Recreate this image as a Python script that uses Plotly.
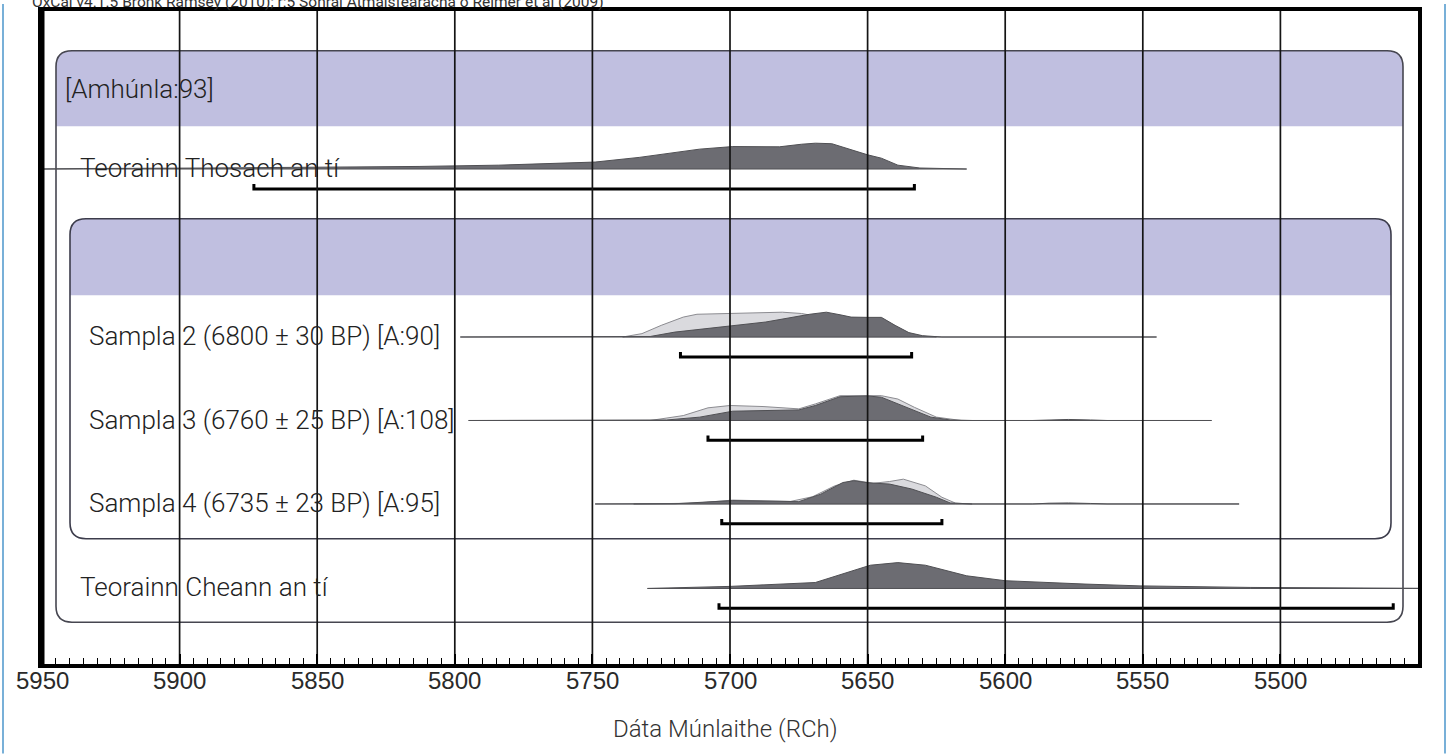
import plotly.graph_objects as go

# ---------------- data ----------------
TICK_YEARS = [5950, 5900, 5850, 5800, 5750, 5700, 5650, 5600, 5550, 5500]
TICK_LABELS = [str(v) for v in TICK_YEARS]
MINOR_STEP = 5
X_TITLE = "Dáta Múnlaithe (RCh)"
HEADER = "OxCal v4.1.5 Bronk Ramsey (2010); r:5 Sonraí Atmaisféaracha ó Reimer et al (2009)"
MODEL_LABEL = "[Amhúnla:93]"

ROW_LABELS = [
    "Teorainn Thosach an tí",
    "Sampla 2 (6800 ± 30 BP) [A:90]",
    "Sampla 3 (6760 ± 25 BP) [A:108]",
    "Sampla 4 (6735 ± 23 BP) [A:95]",
    "Teorainn Cheann an tí",
]

# modelled (posterior) distributions: years and relative probability
thosach_years = [5950, 5935, 5890, 5849, 5813, 5784, 5749, 5733, 5719, 5711, 5699, 5682, 5674, 5669, 5663, 5657, 5650, 5645, 5639, 5631, 5614]
thosach_prob = [0.0, 0.02, 0.04, 0.06, 0.10, 0.15, 0.27, 0.45, 0.65, 0.77, 0.87, 0.86, 0.96, 1.0, 0.98, 0.77, 0.55, 0.42, 0.15, 0.04, 0.0]

s2_post_years = [5798, 5760, 5729, 5720, 5705, 5687, 5671, 5665, 5660, 5656, 5650, 5645, 5640, 5635, 5630, 5623, 5545]
s2_post_prob = [0.0, 0.005, 0.02, 0.19, 0.38, 0.58, 0.88, 0.96, 0.86, 0.77, 0.76, 0.76, 0.45, 0.17, 0.05, 0.0, 0.0]

s3_post_years = [5795, 5723, 5711, 5699, 5675, 5669, 5660, 5650, 5645, 5639, 5633, 5627, 5620, 5612, 5590, 5584, 5577, 5569, 5563, 5525]
s3_post_prob = [0.0, 0.02, 0.13, 0.36, 0.41, 0.58, 0.92, 0.95, 0.90, 0.64, 0.38, 0.13, 0.02, 0.0, 0.0, 0.03, 0.04, 0.02, 0.0, 0.0]

s4_post_years = [5749, 5720, 5699, 5675, 5667, 5659, 5655, 5650, 5642, 5634, 5625, 5620, 5612, 5590, 5584, 5577, 5569, 5563, 5515]
s4_post_prob = [0.0, 0.01, 0.13, 0.09, 0.38, 0.83, 0.90, 0.82, 0.77, 0.58, 0.26, 0.04, 0.0, 0.0, 0.03, 0.04, 0.02, 0.0, 0.0]

cheann_years = [5730, 5700, 5669, 5659, 5649, 5639, 5629, 5614, 5600, 5571, 5551, 5511, 5452, 5440]
cheann_prob = [0.0, 0.08, 0.23, 0.55, 0.90, 1.0, 0.90, 0.49, 0.30, 0.17, 0.10, 0.04, 0.01, 0.0]

# unmodelled likelihoods for the samples
s2_like_years = [5739, 5732, 5725, 5717, 5712, 5699, 5681, 5674, 5661, 5651, 5643, 5638, 5630, 5625]
s2_like_prob = [0.0, 0.13, 0.45, 0.77, 0.88, 0.92, 0.96, 0.91, 0.64, 0.45, 0.38, 0.17, 0.03, 0.0]

s3_like_years = [5729, 5717, 5708, 5700, 5688, 5675, 5669, 5660, 5645, 5639, 5633, 5625, 5616]
s3_like_prob = [0.0, 0.19, 0.49, 0.58, 0.54, 0.45, 0.64, 0.96, 0.96, 0.83, 0.51, 0.13, 0.0]

s4_like_years = [5735, 5713, 5699, 5678, 5670, 5662, 5655, 5648, 5642, 5637, 5629, 5623, 5618, 5612]
s4_like_prob = [0.0, 0.03, 0.15, 0.10, 0.28, 0.70, 0.92, 0.80, 0.87, 0.96, 0.70, 0.26, 0.03, 0.0]

# 95.4% ranges
RANGE_FROM = [5873, 5718, 5708, 5703, 5704]
RANGE_TO = [5633, 5634, 5630, 5623, 5459]

POSTERIORS = [
    (thosach_years, thosach_prob),
    (s2_post_years, s2_post_prob),
    (s3_post_years, s3_post_prob),
    (s4_post_years, s4_post_prob),
    (cheann_years, cheann_prob),
]
LIKELIHOODS = [None, (s2_like_years, s2_like_prob), (s3_like_years, s3_like_prob), (s4_like_years, s4_like_prob), None]

# ---------------- layout constants (page pixels) ----------------
W, H = 1448, 754
PL, PR, PT, PB = 42, 1418, 7, 664
PW = PR - PL
ROW_BASE = [166, 335, 419, 503, 588]
ROW_LABEL_X = [78, 87, 87, 87, 78]
RANGE_OFFSET = 20
PEAK = 26

LABEL_FONT = "Roboto, Liberation Sans, sans-serif"
DARK_FILL = "rgb(108,108,114)"
DARK_LINE = "rgb(80,80,84)"
LIGHT_FILL = "rgb(218,218,222)"
LIGHT_LINE = "rgb(140,140,145)"
BAND = "rgb(192,191,224)"


def px(xp):
    return (xp - PL) / PW


def py(yp):
    return (PB - yp) / (PB - PT)


def rounded(x0, y0, x1, y1, r, top_only=False):
    X0, X1, rx = px(x0), px(x1), r / PW
    if top_only:
        return (f"M {X0+rx},{y0} L {X1-rx},{y0} Q {X1},{y0} {X1},{y0+r} L {X1},{y1} "
                f"L {X0},{y1} L {X0},{y0+r} Q {X0},{y0} {X0+rx},{y0} Z")
    return (f"M {X0+rx},{y0} L {X1-rx},{y0} Q {X1},{y0} {X1},{y0+r} L {X1},{y1-r} "
            f"Q {X1},{y1} {X1-rx},{y1} L {X0+rx},{y1} Q {X0},{y1} {X0},{y1-r} "
            f"L {X0},{y0+r} Q {X0},{y0} {X0+rx},{y0} Z")


fig = go.Figure()


def dist_trace(years, prob, base, fill, line, width=1):
    ys = [base - p * PEAK for p in prob]
    fig.add_trace(go.Scatter(
        x=list(years) + list(years)[::-1],
        y=ys + [base] * len(years),
        mode="lines", fill="toself", fillcolor=fill,
        line=dict(color=line, width=width), hoverinfo="skip", showlegend=False))


for i, base in enumerate(ROW_BASE):
    like = LIKELIHOODS[i]
    if like is not None:
        dist_trace(like[0], like[1], base, LIGHT_FILL, LIGHT_LINE)
    yrs, pr = POSTERIORS[i]
    dist_trace(yrs, pr, base, DARK_FILL, DARK_LINE)
    # range bracket
    yb = base + RANGE_OFFSET
    fig.add_trace(go.Scatter(
        x=[RANGE_FROM[i], RANGE_FROM[i], RANGE_TO[i], RANGE_TO[i]],
        y=[yb - 5, yb, yb, yb - 5], mode="lines",
        line=dict(color="black", width=3), hoverinfo="skip", showlegend=False))

# vertical grid lines drawn on top
gx, gy = [], []
for v in TICK_YEARS:
    gx += [v, v, None]
    gy += [PT, PB, None]
fig.add_trace(go.Scatter(x=gx, y=gy, mode="lines", line=dict(color="rgb(20,20,20)", width=1.7),
                         hoverinfo="skip", showlegend=False))

shapes = []
# outer box
shapes.append(dict(type="path", xref="paper", yref="y", layer="below",
                   path=rounded(56, 47, 1403, 123, 16, top_only=True), fillcolor=BAND, line=dict(width=0)))
shapes.append(dict(type="path", xref="paper", yref="y", layer="below",
                   path=rounded(56, 47, 1403, 622, 16), line=dict(color="rgb(70,70,80)", width=1.6)))
# inner box
shapes.append(dict(type="path", xref="paper", yref="y", layer="below",
                   path=rounded(70, 216, 1391, 293, 16, top_only=True), fillcolor=BAND, line=dict(width=0)))
shapes.append(dict(type="path", xref="paper", yref="y", layer="below",
                   path=rounded(70, 216, 1391, 538, 16), line=dict(color="rgb(60,60,75)", width=1.6)))
# thicker left frame edge
shapes.append(dict(type="line", xref="paper", yref="paper", x0=0, x1=0, y0=0, y1=1,
                   line=dict(color="black", width=5), layer="above"))
# page border lines (light blue)
for xb in (3, 1445):
    shapes.append(dict(type="line", xref="paper", yref="paper", x0=px(xb), x1=px(xb),
                       y0=py(0), y1=py(H), line=dict(color="rgb(120,176,216)", width=2)))

FONT = dict(family=LABEL_FONT, size=26, color="#222", weight=300)
annotations = []
annotations.append(dict(text=MODEL_LABEL, xref="paper", yref="y", x=px(63), y=85, xanchor="left",
                        yanchor="middle", showarrow=False, font=FONT))
for i, lab in enumerate(ROW_LABELS):
    annotations.append(dict(text=lab, xref="paper", yref="y", x=px(ROW_LABEL_X[i]), y=ROW_BASE[i] - 1,
                            xanchor="left", yanchor="middle", showarrow=False, font=FONT))
# tick labels
for v, t in zip(TICK_YEARS, TICK_LABELS):
    annotations.append(dict(text=t, xref="x", yref="paper", x=v, y=py(681), xanchor="center",
                            yanchor="middle", showarrow=False,
                            font=dict(family="Liberation Sans, Arial, sans-serif", size=24, color="#2a2a2a")))
annotations.append(dict(text=X_TITLE, xref="paper", yref="paper", x=px(725), y=py(729), xanchor="center",
                        yanchor="middle", showarrow=False,
                        font=dict(family=LABEL_FONT, size=24, color="#333", weight=300)))
annotations.append(dict(text=HEADER, xref="paper", yref="paper", x=px(30), y=py(9), xanchor="left",
                        yanchor="bottom", showarrow=False,
                        font=dict(family=LABEL_FONT, size=15.5, color="#333")))

fig.update_layout(
    width=W, height=H,
    margin=dict(l=PL, r=W - PR, t=PT, b=H - PB),
    paper_bgcolor="white", plot_bgcolor="white",
    shapes=shapes, annotations=annotations, showlegend=False,
    xaxis=dict(range=[5950, 5450], tickvals=TICK_YEARS, showticklabels=False,
               showgrid=False, zeroline=False, showline=True, mirror=True,
               linecolor="black", linewidth=3.5, ticks="inside", ticklen=10, tickwidth=2,
               tickcolor="black",
               minor=dict(dtick=MINOR_STEP, ticks="inside", ticklen=6, tickwidth=1, tickcolor="black")),
    yaxis=dict(range=[PB, PT], showgrid=False, zeroline=False, showticklabels=False,
               showline=True, mirror=True, linecolor="black", linewidth=3.5, ticks=""),
)

fig.write_html("out.html", post_script="document.body.style.margin='0';",
               config={"displayModeBar": False})
